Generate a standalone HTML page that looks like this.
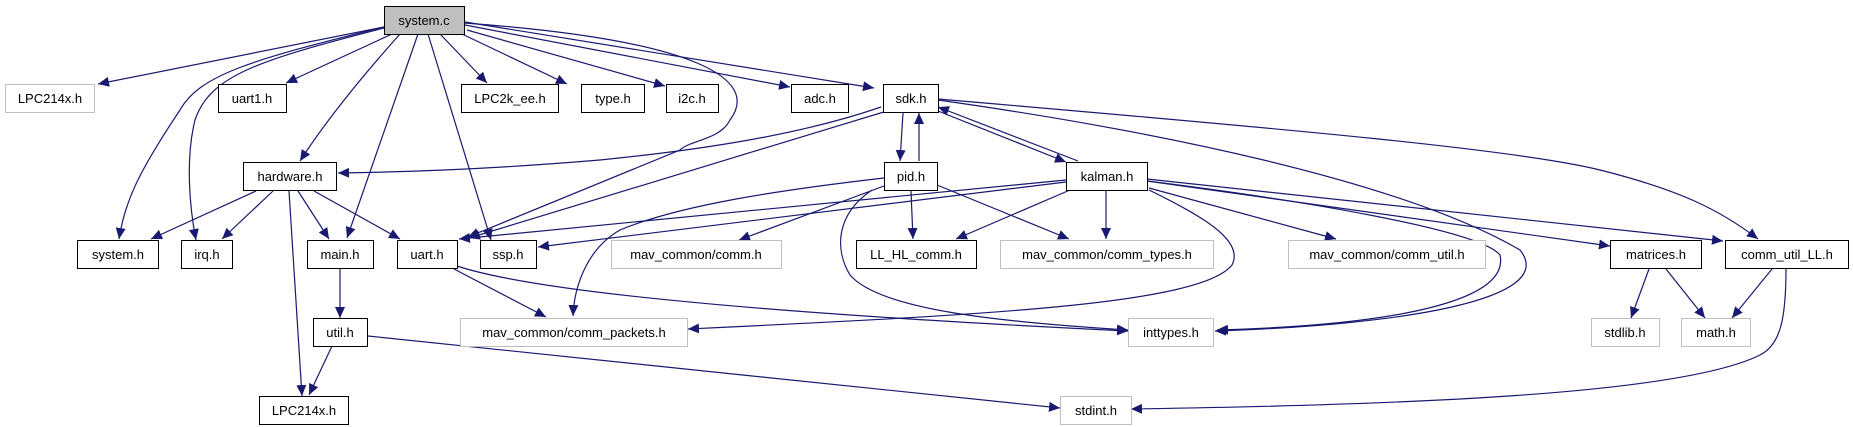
<!DOCTYPE html>
<html><head><meta charset="utf-8"><style>
html,body{margin:0;padding:0;background:#fff;}
svg{display:block;}
text{font-family:"Liberation Sans",sans-serif;font-size:13px;fill:#000;}
</style></head><body>
<svg width="1853" height="427" viewBox="0 0 1853 427" xmlns="http://www.w3.org/2000/svg">
<defs>
<marker id="a" markerWidth="12" markerHeight="10" refX="11" refY="5" orient="auto" markerUnits="userSpaceOnUse">
<path d="M0,0 L11,5 L0,10 z" fill="#191970"/>
</marker>
</defs>
<g fill="none" stroke="#191970" stroke-width="1.2" marker-end="url(#a)">
<path d="M384,27 L98,84"/>
<path d="M392,34 L286,83"/>
<path d="M440,34 L487,83"/>
<path d="M462,34 L567,84"/>
<path d="M467,30 L665,86"/>
<path d="M465,25 L790,87"/>
<path d="M465,22 L874,88"/>
<path d="M384,27 C250,60 200,75 180,110 C140,170 125,200 119,239"/>
<path d="M384,28 C260,60 210,75 195,120 C185,160 190,210 196,240"/>
<path d="M400,34 C350,90 320,130 300,161"/>
<path d="M418,34 L347,238"/>
<path d="M428,34 L491,240"/>
<path d="M464,23 C700,40 760,80 730,120 C720,140 690,140 680,150 L468,237"/>
<path d="M881,107 C800,135 700,150 600,160 C480,170 400,172 338,173"/>
<path d="M887,111 L469,238"/>
<path d="M903,113 L900,161"/>
<path d="M919,161 L919,113"/>
<path d="M938,111 L1066,162"/>
<path d="M1078,161 L938,107"/>
<path d="M938,100 C1150,130 1400,180 1520,250 C1560,300 1400,325 1215,331"/>
<path d="M938,99 C1300,130 1520,150 1600,170 C1680,190 1720,210 1758,239"/>
<path d="M884,178 C780,190 680,205 620,230 C585,250 574,290 573,316"/>
<path d="M884,186 L739,240"/>
<path d="M911,191 L913,239"/>
<path d="M937,185 L1069,239"/>
<path d="M872,190 C835,215 835,250 850,275 C880,310 1000,322 1128,330"/>
<path d="M1066,180 L459,239"/>
<path d="M1066,182 L538,247"/>
<path d="M454,269 L546,317"/>
<path d="M457,266 C560,300 900,320 1128,331"/>
<path d="M1070,190 L956,239"/>
<path d="M1106,190 L1106,239"/>
<path d="M1149,188 L1336,239"/>
<path d="M1147,181 L1610,246"/>
<path d="M1147,179 L1723,241"/>
<path d="M1147,181 C1300,200 1480,230 1500,255 C1510,300 1400,325 1217,330"/>
<path d="M1149,190 C1200,215 1245,240 1232,265 C1200,305 980,315 688,329"/>
<path d="M256,191 L151,239"/>
<path d="M273,191 L222,239"/>
<path d="M289,191 L302,396"/>
<path d="M298,191 L329,239"/>
<path d="M314,191 L400,239"/>
<path d="M340,268 L340,318"/>
<path d="M332,346 L309,395"/>
<path d="M368,336 L1060,408"/>
<path d="M1649,269 L1631,318"/>
<path d="M1666,269 L1705,318"/>
<path d="M1772,269 L1732,318"/>
<path d="M1786,269 C1786,320 1780,345 1760,355 C1680,395 1400,405 1131,409"/>
</g>
<g stroke-width="1">
<rect x="384.5" y="6.5" width="80" height="28" fill="#bfbfbf" stroke="#000"/>
<rect x="5.5" y="84.5" width="89" height="28" fill="#fff" stroke="#bfbfbf"/>
<rect x="218.5" y="84.5" width="68" height="28" fill="#fff" stroke="#000"/>
<rect x="461.5" y="84.5" width="97" height="28" fill="#fff" stroke="#000"/>
<rect x="581.5" y="84.5" width="63" height="28" fill="#fff" stroke="#000"/>
<rect x="666.5" y="84.5" width="52" height="28" fill="#fff" stroke="#000"/>
<rect x="791.5" y="84.5" width="57" height="28" fill="#fff" stroke="#000"/>
<rect x="883.5" y="84.5" width="55" height="28" fill="#fff" stroke="#000"/>
<rect x="243.5" y="162.5" width="93" height="28" fill="#fff" stroke="#000"/>
<rect x="884.5" y="162.5" width="53" height="28" fill="#fff" stroke="#000"/>
<rect x="1066.5" y="162.5" width="81" height="28" fill="#fff" stroke="#000"/>
<rect x="77.5" y="240.5" width="81" height="28" fill="#fff" stroke="#000"/>
<rect x="181.5" y="240.5" width="51" height="28" fill="#fff" stroke="#000"/>
<rect x="307.5" y="240.5" width="66" height="28" fill="#fff" stroke="#000"/>
<rect x="397.5" y="240.5" width="60" height="28" fill="#fff" stroke="#000"/>
<rect x="480.5" y="240.5" width="56" height="28" fill="#fff" stroke="#000"/>
<rect x="611.5" y="240.5" width="170" height="28" fill="#fff" stroke="#bfbfbf"/>
<rect x="856.5" y="240.5" width="120" height="28" fill="#fff" stroke="#000"/>
<rect x="1000.5" y="240.5" width="213" height="28" fill="#fff" stroke="#bfbfbf"/>
<rect x="1288.5" y="240.5" width="197" height="28" fill="#fff" stroke="#bfbfbf"/>
<rect x="1610.5" y="240.5" width="91" height="28" fill="#fff" stroke="#000"/>
<rect x="1725.5" y="240.5" width="123" height="28" fill="#fff" stroke="#000"/>
<rect x="313.5" y="318.5" width="54" height="28" fill="#fff" stroke="#000"/>
<rect x="460.5" y="318.5" width="227" height="28" fill="#fff" stroke="#bfbfbf"/>
<rect x="1128.5" y="318.5" width="85" height="28" fill="#fff" stroke="#bfbfbf"/>
<rect x="1591.5" y="318.5" width="68" height="28" fill="#fff" stroke="#bfbfbf"/>
<rect x="1681.5" y="318.5" width="69" height="28" fill="#fff" stroke="#bfbfbf"/>
<rect x="259.5" y="396.5" width="89" height="28" fill="#fff" stroke="#000"/>
<rect x="1060.5" y="396.5" width="71" height="28" fill="#fff" stroke="#bfbfbf"/>
</g>
<g text-anchor="middle">
<text x="424" y="25">system.c</text>
<text x="50" y="103">LPC214x.h</text>
<text x="252" y="103">uart1.h</text>
<text x="510" y="103">LPC2k_ee.h</text>
<text x="613" y="103">type.h</text>
<text x="692" y="103">i2c.h</text>
<text x="820" y="103">adc.h</text>
<text x="911" y="103">sdk.h</text>
<text x="290" y="181">hardware.h</text>
<text x="911" y="181">pid.h</text>
<text x="1107" y="181">kalman.h</text>
<text x="118" y="259">system.h</text>
<text x="207" y="259">irq.h</text>
<text x="340" y="259">main.h</text>
<text x="427" y="259">uart.h</text>
<text x="508" y="259">ssp.h</text>
<text x="696" y="259">mav_common/comm.h</text>
<text x="916" y="259">LL_HL_comm.h</text>
<text x="1107" y="259">mav_common/comm_types.h</text>
<text x="1387" y="259">mav_common/comm_util.h</text>
<text x="1656" y="259">matrices.h</text>
<text x="1787" y="259">comm_util_LL.h</text>
<text x="340" y="337">util.h</text>
<text x="574" y="337">mav_common/comm_packets.h</text>
<text x="1171" y="337">inttypes.h</text>
<text x="1625" y="337">stdlib.h</text>
<text x="1716" y="337">math.h</text>
<text x="304" y="415">LPC214x.h</text>
<text x="1096" y="415">stdint.h</text>
</g>
</svg>
</body></html>
